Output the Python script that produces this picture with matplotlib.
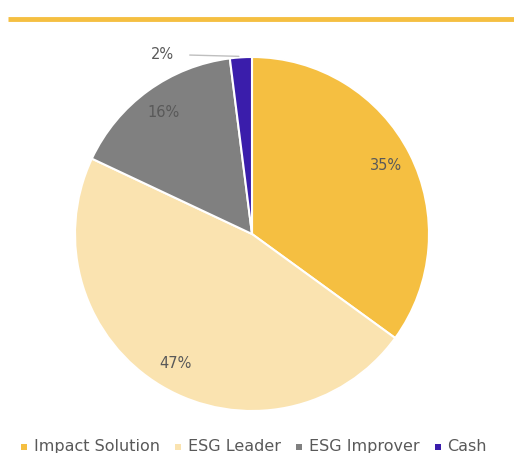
import numpy as np
import matplotlib.pyplot as plt
from matplotlib.patches import Rectangle

labels = ['Impact Solution', 'ESG Leader', 'ESG Improver', 'Cash']
shares = [35, 47, 16, 2]
pct_text = ['35%', '47%', '16%', '2%']
colors = ['#F5BF41', '#FAE3B0', '#808080', '#3A1DAB']

plt.rcParams['font.family'] = ['DejaVu Sans']

fig = plt.figure(figsize=(5.14, 4.53), dpi=100)
ax = fig.add_axes([0, 0, 1, 1])

# yellow rule under the (cropped) title
ax.plot([8, 514], [434, 434], color='#F5BF41', lw=3.5, solid_capstyle='butt')

cx, cy, R = 252, 219, 177
wedges, _ = ax.pie(shares, colors=colors, startangle=90, counterclock=False,
                   center=(cx, cy), radius=R, frame=True,
                   wedgeprops={'edgecolor': 'white', 'linewidth': 1.5})
ax.set_xlim(0, 514)
ax.set_ylim(0, 453)
ax.axis('off')

# percentage labels
for w, t, s in zip(wedges, pct_text, shares):
    ang = np.deg2rad((w.theta1 + w.theta2) / 2)
    if s < 5:
        x0, y0 = cx + R * np.cos(ang), cy + R * np.sin(ang)
        ax.annotate(t, xy=(x0 - 2, y0 + 1), xytext=(x0 - 78, y0 + 3),
                    ha='center', va='center', fontsize=10.5, color='#595959',
                    arrowprops=dict(arrowstyle='-', color='#BFBFBF', lw=1,
                                    shrinkA=9, shrinkB=0))
    else:
        r = 0.85 * R
        ax.text(cx + r * np.cos(ang), cy + r * np.sin(ang), t, ha='center',
                va='center', fontsize=10.5, color='#595959')

# legend
x = 21
for lab, c in zip(labels, colors):
    ax.add_patch(Rectangle((x, 3), 6, 6, color=c, lw=0))
    txt = ax.text(x + 13, 2, lab, fontsize=11.5, color='#595959', va='baseline')
    fig.canvas.draw()
    bb = txt.get_window_extent()
    x = bb.x1 + 15

fig.savefig('out.png', dpi=100)
